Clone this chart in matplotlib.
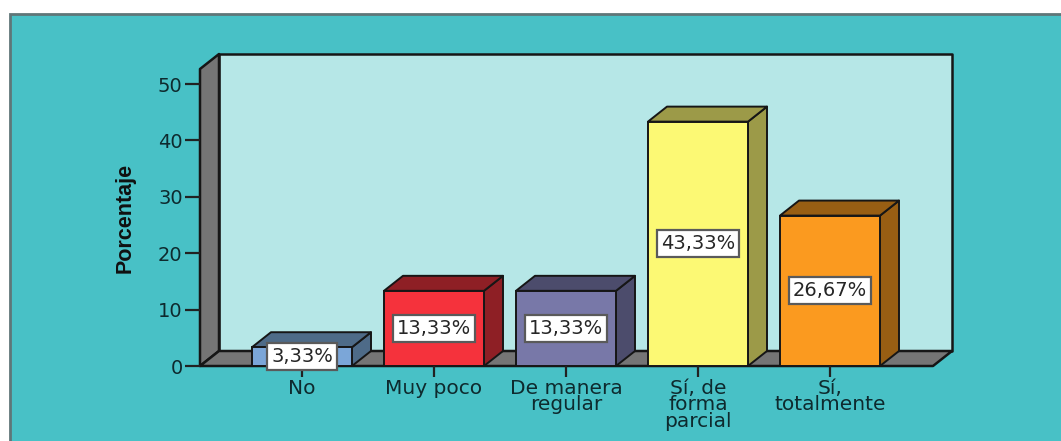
import matplotlib
matplotlib.use("Agg")
import matplotlib.pyplot as plt
from matplotlib.patches import Polygon, Rectangle

categories = ["No", "Muy poco", "De manera\nregular", "Sí, de\nforma\nparcial", "Sí,\ntotalmente"]
values = [3.33, 13.33, 13.33, 43.33, 26.67]
value_labels = ["3,33%", "13,33%", "13,33%", "43,33%", "26,67%"]
front_colors = ["#7BA6D8", "#F5323C", "#7878A8", "#FCF974", "#FB9A1F"]
dark_colors = ["#4E6B88", "#8E1F25", "#4C4C6C", "#9C9A48", "#985E13"]
yticks = [0, 10, 20, 30, 40, 50]

W, H = 1061, 441
PX_X = 132.0   # pixels per category
PX_Y = 5.64    # pixels per percent
X0 = 302; Y0 = 366
DX = 19 / PX_X
DY = 15 / PX_Y
BAR_W = 100 / PX_X
LEFT, RIGHT = (200 - X0) / PX_X, (933 - X0) / PX_X
TOP = (Y0 - 69) / PX_Y
EDGE = "#161616"
FONT = "DejaVu Sans"
TXT = "#0E2A2E"

fig = plt.figure(figsize=(W / 100, H / 100), dpi=100, facecolor="white")
fig.add_artist(Rectangle((10 / W, -0.02), 1.02, 1 - 14 / H + 0.02, transform=fig.transFigure,
                         facecolor="#48C1C6", edgecolor="#5F7678", linewidth=2, zorder=-5))

ax = fig.add_axes([200 / W, 1 - Y0 / H, (951 - 200) / W, (Y0 - 54) / H])
ax.set_xlim(LEFT, LEFT + (951 - 200) / PX_X)
ax.set_ylim(0, (Y0 - 54) / PX_Y)
ax.patch.set_visible(False)
for s in ax.spines.values():
    s.set_visible(False)


def poly(pts, fc, z=2, lw=1.4):
    ax.add_patch(Polygon(pts, closed=True, facecolor=fc, edgecolor=EDGE, linewidth=lw,
                         joinstyle="round", zorder=z, clip_on=False))


# walls
poly([(LEFT + DX, DY), (RIGHT + DX, DY), (RIGHT + DX, TOP + DY), (LEFT + DX, TOP + DY)], "#B6E7E7", 1, 1.8)
poly([(LEFT, 0), (LEFT + DX, DY), (LEFT + DX, TOP + DY), (LEFT, TOP)], "#757575", 1.5, 1.8)
poly([(LEFT, 0), (RIGHT, 0), (RIGHT + DX, DY), (LEFT + DX, DY)], "#757575", 1.5, 1.8)

# bars
for i, (v, fc, dc) in enumerate(zip(values, front_colors, dark_colors)):
    l, r = i - BAR_W / 2, i + BAR_W / 2
    poly([(r, 0), (r + DX, DY), (r + DX, v + DY), (r, v)], dc, 3)
    poly([(l, v), (r, v), (r + DX, v + DY), (l + DX, v + DY)], dc, 3)
    ax.bar(i, v, width=BAR_W, color=fc, edgecolor=EDGE, linewidth=1.4, zorder=4)
    ax.annotate(value_labels[i], (i, v / 2), ha="center", va="center",
                fontsize=14, family=FONT, color="#262626", zorder=5,
                bbox=dict(boxstyle="square,pad=0.2", facecolor="white",
                          edgecolor="#5A5A5A", linewidth=1.6))

ax.set_xticks(range(len(categories)))
ax.set_xticklabels(categories, fontsize=14.5, family=FONT, color=TXT, linespacing=0.86)
ax.set_yticks(yticks)
ax.set_yticklabels([str(t) for t in yticks], fontsize=14, family=FONT, color=TXT)
ax.tick_params(axis="x", length=8, width=1.6, color="#222222", pad=1)
ax.tick_params(axis="y", length=11, width=1.6, color="#222222", pad=1.5)

fig.text(125 / W, 1 - 218 / H, "Porcentaje", rotation=90, ha="center", va="center",
         fontsize=15.5, fontweight="bold", family=["Liberation Sans"], color="#101010")

fig.savefig("out.png", dpi=100, facecolor="white")
